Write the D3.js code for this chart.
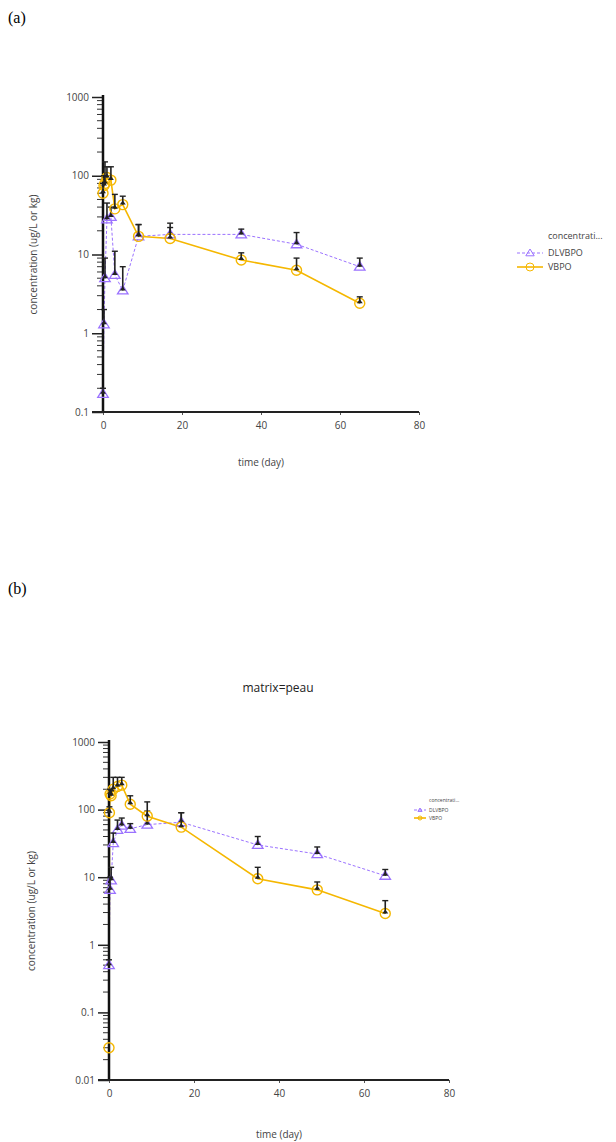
<!DOCTYPE html>
<html><head><meta charset="utf-8">
<script src="https://cdn.jsdelivr.net/npm/d3@7"></script>
<style>body{margin:0;background:#fff}svg{display:block}</style>
</head><body>
<svg id="c" width="616" height="1142"></svg>
<script>
// ---- Data ----
const seriesNames = ["DLVBPO", "VBPO"];
const xTicks = [0, 20, 40, 60, 80];
const yTicksA = [0.1, 1, 10, 100, 1000];
const yTicksB = [0.01, 0.1, 1, 10, 100, 1000];

// Panel (a)
const a_DL_time  = [0, 0.25, 0.5, 1, 2, 3, 5, 9, 17, 35, 49, 65];
const a_DL_value = [0.17, 1.3, 5, 28, 30, 5.5, 3.5, 17, 18, 18, 13.5, 7];
const a_DL_upper = [0.2, 2, 9, 45, 40, 11, 7, 24, 25, 21, 19, 9];
const a_V_time   = [0, 0.25, 0.5, 1, 2, 3, 5, 9, 17, 35, 49, 65];
const a_V_value  = [60, 75, 80, 95, 88, 38, 43, 17, 16, 8.5, 6.3, 2.4];
const a_V_upper  = [80, 100, 150, 130, 130, 58, 55, 24, 22, 10.5, 9, 2.9];

// Panel (b)
const b_DL_time  = [0, 0.25, 0.5, 1, 2, 3, 5, 9, 17, 35, 49, 65];
const b_DL_value = [0.5, 6.5, 9, 32, 50, 58, 52, 60, 65, 30, 22, 10.5];
const b_DL_upper = [0.6, 10, 14, 45, 70, 75, 62, 95, 90, 40, 28, 13];
const b_V_time   = [0, 0.1, 0.25, 0.5, 1, 2, 3, 5, 9, 17, 35, 49, 65];
const b_V_value  = [0.03, 90, 170, 160, 200, 220, 230, 120, 80, 55, 9.5, 6.5, 2.9];
const b_V_upper  = [0.03, 110, 200, 190, 300, 300, 300, 160, 130, 90, 14, 8.5, 4.5];

const COL_DL = "#9b72ff";
const COL_V = "#f5b700";
const FONT = "'Open Sans', 'Noto Sans', sans-serif";
const svg = d3.select("#c");

function fmtY(d){ return String(d); }

function panel(o){
  const x = d3.scaleLinear().domain([0, 80]).range([o.x0, o.x1]);
  const y = d3.scaleLog().domain(o.ydom).range([o.y1, o.y0]);
  const g = svg.append("g");

  // Y axis: major ticks
  const yAx = d3.axisLeft(y).tickValues(o.yticks).tickFormat(fmtY).tickSize(11).tickPadding(3);
  const yg = g.append("g").attr("transform", `translate(${o.x0},0)`).call(yAx);
  yg.select(".domain").remove();
  yg.selectAll(".tick line").attr("stroke", "#222").attr("stroke-width", 1.5);
  yg.selectAll(".tick text").attr("font-family", FONT).attr("font-size", o.fs).attr("fill", "#444");
  // minor ticks
  const minors = [];
  const [lo, hi] = o.ydom;
  for (let p = Math.log10(lo); p < Math.log10(hi); p++) for (let k = 2; k <= 9; k++) minors.push(k * Math.pow(10, p));
  g.append("g").selectAll("line").data(minors).join("line")
    .attr("x1", o.x0 - 6).attr("x2", o.x0).attr("y1", d => y(d)).attr("y2", d => y(d))
    .attr("stroke", "#333").attr("stroke-width", 1);

  // X axis
  const xAx = d3.axisBottom(x).tickValues(xTicks).tickSize(3).tickPadding(7);
  const xg = g.append("g").attr("transform", `translate(0,${o.y1})`).call(xAx);
  xg.select(".domain").remove();
  xg.selectAll(".tick line").attr("stroke", "#555");
  xg.selectAll(".tick text").attr("font-family", FONT).attr("font-size", o.fs).attr("fill", "#444");

  // labels
  g.append("text").attr("x", (o.x0 + o.x1) / 2).attr("y", o.xlabY).attr("text-anchor", "middle")
    .attr("font-family", FONT).attr("font-size", o.fs).attr("fill", "#444").text("time (day)");
  g.append("text").attr("transform", `translate(${o.ylabX},${(o.y0 + o.y1) / 2}) rotate(-90)`)
    .attr("text-anchor", "middle").attr("font-family", FONT).attr("font-size", o.fs).attr("fill", "#444")
    .text("concentration (ug/L or kg)");

  const line = d3.line().x(d => x(d.t)).y(d => y(d.v));
  const series = [
    {name: seriesNames[0], t: o.dl[0], v: o.dl[1], u: o.dl[2], col: COL_DL, dash: "3,2", sw: 1, shape: "tri"},
    {name: seriesNames[1], t: o.vb[0], v: o.vb[1], u: o.vb[2], col: COL_V, dash: null, sw: 1.6, shape: "circ"}
  ];
  const data = series.map(s => s.t.map((t, i) => ({t, v: s.v[i], u: s.u[i]})));
  // lines first
  series.forEach((s, si) => {
    g.append("path").datum(data[si]).attr("d", line).attr("fill", "none")
      .attr("stroke", s.col).attr("stroke-width", s.sw).attr("stroke-dasharray", s.dash);
  });

  // axis lines over the connecting lines
  g.append("line").attr("x1", o.x0).attr("x2", o.x0).attr("y1", o.y0 - 2).attr("y2", o.y1 + 1)
    .attr("stroke", "#111").attr("stroke-width", 2.5);
  g.append("line").attr("x1", o.x0 - 11).attr("x2", x(80)).attr("y1", o.y1).attr("y2", o.y1)
    .attr("stroke", "#222").attr("stroke-width", 2);

  series.forEach((s, si) => {
    const pts = data[si];
    pts.forEach(p => {
      const cx = x(p.t), cy = y(p.v);
      if (s.shape === "tri") {
        const r = o.ms;
        g.append("path").attr("d", `M${cx},${cy - r}L${cx + r * 1.05},${cy + r * 0.7}L${cx - r * 1.05},${cy + r * 0.7}Z`)
          .attr("fill", "none").attr("stroke", s.col).attr("stroke-width", 1.3);
      } else {
        g.append("circle").attr("cx", cx).attr("cy", cy).attr("r", o.ms)
          .attr("fill", "none").attr("stroke", s.col).attr("stroke-width", 1.4);
      }
    });
    pts.forEach(p => {
      if (p.u <= p.v) return;
      const cx = x(p.t), ct = y(p.u), cb = y(p.v);
      g.append("line").attr("x1", cx).attr("x2", cx).attr("y1", ct).attr("y2", cb)
        .attr("stroke", "#222").attr("stroke-width", 1.6);
      g.append("line").attr("x1", cx - 3).attr("x2", cx + 3).attr("y1", ct).attr("y2", ct)
        .attr("stroke", "#222").attr("stroke-width", 1.4);
      g.append("path").attr("d", `M${cx - 3},${cb}L${cx + 3},${cb}L${cx},${cb - 4}Z`).attr("fill", "#222");
    });
  });

  // legend
  const L = o.leg;
  g.append("text").attr("x", L.x).attr("y", L.y).attr("font-family", FONT).attr("font-size", L.fs)
    .attr("fill", "#444").text("concentrati...");
  series.forEach((s, i) => {
    const ly = L.y + L.dy * (i + 1);
    g.append("line").attr("x1", L.lx0).attr("x2", L.lx1).attr("y1", ly).attr("y2", ly)
      .attr("stroke", s.col).attr("stroke-width", s.sw).attr("stroke-dasharray", s.dash);
    const cx = (L.lx0 + L.lx1) / 2, r = L.ms;
    if (s.shape === "tri") {
      g.append("path").attr("d", `M${cx},${ly - r}L${cx + r * 1.05},${ly + r * 0.7}L${cx - r * 1.05},${ly + r * 0.7}Z`)
        .attr("fill", "none").attr("stroke", s.col).attr("stroke-width", 1);
    } else {
      g.append("circle").attr("cx", cx).attr("cy", ly).attr("r", r).attr("fill", "none").attr("stroke", s.col).attr("stroke-width", 1);
    }
    g.append("text").attr("x", L.x).attr("y", ly + L.fs * 0.35).attr("font-family", FONT).attr("font-size", L.fs)
      .attr("fill", "#444").text(s.name);
  });
}

// Panel labels
svg.append("text").attr("x", 8).attr("y", 23).attr("font-family", "'Liberation Serif', serif").attr("font-size", 16).text("(a)");
svg.append("text").attr("x", 8).attr("y", 594).attr("font-family", "'Liberation Serif', serif").attr("font-size", 16).text("(b)");

panel({
  x0: 103, x1: 419, y0: 97, y1: 412, ydom: [0.1, 1000], yticks: yTicksA, fs: 10,
  xlabY: 466, ylabX: 37, ms: 5,
  dl: [a_DL_time, a_DL_value, a_DL_upper], vb: [a_V_time, a_V_value, a_V_upper],
  leg: {x: 548, y: 239, dy: 14, fs: 9, lx0: 517, lx1: 543, ms: 4}
});

// title b
svg.append("text").attr("x", 278).attr("y", 692).attr("text-anchor", "middle").attr("font-family", FONT)
  .attr("font-size", 12).attr("fill", "#222").text("matrix=peau");

panel({
  x0: 109, x1: 449, y0: 742, y1: 1080, ydom: [0.01, 1000], yticks: yTicksB, fs: 10,
  xlabY: 1138, ylabX: 35, ms: 5,
  dl: [b_DL_time, b_DL_value, b_DL_upper], vb: [b_V_time, b_V_value, b_V_upper],
  leg: {x: 429, y: 802, dy: 8, fs: 5, lx0: 414, lx1: 426, ms: 2}
});
</script>
</body></html>
